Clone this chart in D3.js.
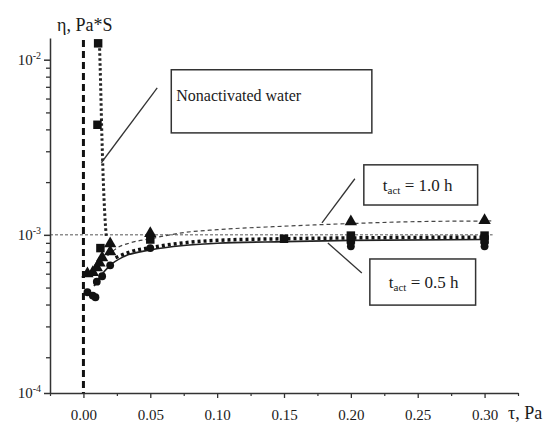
<!DOCTYPE html>
<html>
<head>
<meta charset="utf-8">
<script src="https://cdn.jsdelivr.net/npm/d3@7"></script>
<style>
  body { margin: 0; background: #fff; }
  svg text { font-family: "Liberation Serif", "DejaVu Serif", serif; fill: #1a1a1a; }
</style>
</head>
<body>
<div id="chart"></div>
<script>
// measured points  [tau (Pa), eta (Pa*s)]
var waterPts = [[0.011, 1.24e-2], [0.0105, 4.25e-3], [0.0127, 8.4e-4], [0.05, 9.4e-4],
                [0.15, 9.5e-4], [0.2, 9.9e-4], [0.2, 9.4e-4], [0.3, 9.9e-4], [0.3, 9.4e-4]];
var act10Pts = [[0.003, 6.0e-4], [0.007, 6.1e-4], [0.010, 6.5e-4], [0.012, 6.9e-4], [0.014, 7.4e-4],
                [0.020, 8.0e-4], [0.020, 8.9e-4], [0.05, 1.02e-3], [0.2, 1.19e-3], [0.3, 1.21e-3]];
var act05Pts = [[0.003, 4.7e-4], [0.007, 4.5e-4], [0.009, 4.4e-4], [0.010, 5.4e-4], [0.014, 5.8e-4],
                [0.020, 6.7e-4], [0.05, 8.4e-4], [0.2, 9.0e-4], [0.2, 8.6e-4], [0.3, 9.0e-4], [0.3, 8.6e-4]];

// fitted curves
var waterDropFit = [[0.0120, 1.24e-2], [0.0128, 7.5e-3], [0.0136, 4.2e-3], [0.0148, 2.1e-3],
                    [0.0160, 1.3e-3], [0.0172, 9.6e-4]];
var waterFit = [[0.024, 7.4e-4], [0.035, 8.0e-4], [0.052, 8.5e-4], [0.075, 9.0e-4], [0.1, 9.3e-4],
                [0.15, 9.5e-4], [0.2, 9.6e-4], [0.3, 9.7e-4]];
var act10Fit = [[0.018, 7.6e-4], [0.025, 8.4e-4], [0.035, 9.0e-4], [0.05, 9.5e-4], [0.075, 1.03e-3],
                [0.1, 1.07e-3], [0.15, 1.12e-3], [0.2, 1.16e-3], [0.25, 1.19e-3], [0.305, 1.2e-3]];
var act05Fit = [[0.008, 5.1e-4], [0.0127, 5.8e-4], [0.02, 6.7e-4], [0.03, 7.5e-4], [0.05, 8.2e-4],
                [0.075, 8.7e-4], [0.1, 8.95e-4], [0.15, 9.15e-4], [0.2, 9.3e-4], [0.3, 9.4e-4]];

// axes
var xDomain = [-0.025, 0.325];
var xMajor = [0, 0.05, 0.10, 0.15, 0.20, 0.25, 0.30];
var xMinor = [-0.025, 0.025, 0.075, 0.125, 0.175, 0.225, 0.275, 0.325];
var yDomain = [1.25e-4, 1.33e-2];
var yMajor = [1.25e-4, 1e-3, 1e-2];
var yMajorExp = ["-4", "-3", "-2"];
var yMinor = [2e-4, 3e-4, 4e-4, 5e-4, 6e-4, 7e-4, 8e-4, 9e-4, 2e-3, 3e-3, 4e-3, 5e-3, 6e-3, 7e-3, 8e-3, 9e-3];
var refEta = 1e-3, refTau = 0, refEnd = 0.306;

// annotation boxes [tau0, tau1, etaTop, etaBottom], leaders [[tau, eta],[tau, eta]]
var noteWater = { box: [0.0657, 0.2157, 8.76e-3, 3.82e-3], lead: [[0.0552, 6.9e-3], [0.0134, 2.58e-3]] };
var note10 = { box: [0.2097, 0.2948, 2.51e-3, 1.48e-3], lead: [[0.203, 2.09e-3], [0.1784, 1.17e-3]] };
var note05 = { box: [0.2142, 0.2933, 7.28e-4, 3.97e-4], lead: [[0.2082, 6.05e-4], [0.1828, 8.99e-4]] };

var W = 551, H = 424;
var x = d3.scaleLinear().domain(xDomain).range([50, 518]);
var y = d3.scaleLog().domain(yDomain).range([393, 38]);

var svg = d3.select("#chart").append("svg")
    .attr("width", W).attr("height", H);

// reference lines
svg.append("line")
    .attr("x1", x(xDomain[0])).attr("x2", x(refEnd))
    .attr("y1", y(refEta)).attr("y2", y(refEta))
    .attr("stroke", "#555").attr("stroke-width", 1).attr("stroke-dasharray", "3,2");
svg.append("line")
    .attr("x1", x(refTau)).attr("x2", x(refTau))
    .attr("y1", y(yDomain[1]) + 2).attr("y2", y(yDomain[0]))
    .attr("stroke", "#111").attr("stroke-width", 3).attr("stroke-dasharray", "7,4");

// fit lines
var line = d3.line()
    .x(function(d) { return x(d[0]); })
    .y(function(d) { return y(d[1]); })
    .curve(d3.curveMonotoneX);

svg.append("path").datum(act05Fit).attr("d", line)
    .attr("fill", "none").attr("stroke", "#222").attr("stroke-width", 1.6);
svg.append("path").datum(act10Fit).attr("d", line)
    .attr("fill", "none").attr("stroke", "#444").attr("stroke-width", 1.2).attr("stroke-dasharray", "4,3");
svg.append("path").datum(waterFit).attr("d", line)
    .attr("fill", "none").attr("stroke", "#111").attr("stroke-width", 3.5).attr("stroke-dasharray", "3,3");
svg.append("path").datum(waterDropFit).attr("d", line)
    .attr("fill", "none").attr("stroke", "#222").attr("stroke-width", 3).attr("stroke-dasharray", "2.5,2.5");

// markers
function drawPts(data, type, size) {
    svg.append("g").selectAll("path").data(data).enter().append("path")
        .attr("transform", function(d) { return "translate(" + x(d[0]) + "," + y(d[1]) + ")"; })
        .attr("d", d3.symbol().type(type).size(size))
        .attr("fill", "#111");
}
drawPts(act05Pts, d3.symbolCircle, 48);
drawPts(waterPts, d3.symbolSquare, 72);
drawPts(act10Pts, d3.symbolTriangle, 66);

// x axis
svg.append("g").attr("transform", "translate(0,393)")
    .call(d3.axisBottom(x).tickValues(xMajor).tickSize(5).tickSizeOuter(0).tickPadding(11)
        .tickFormat(d3.format(".2f")))
    .call(function(g) {
        g.select(".domain").attr("stroke", "#333").attr("stroke-width", 1.5);
        g.selectAll(".tick line").attr("stroke", "#333").attr("stroke-width", 1.3);
        g.selectAll("text").attr("font-size", 15).attr("fill", "#1a1a1a");
    });
svg.append("g").attr("transform", "translate(0,393)")
    .call(d3.axisBottom(x).tickValues(xMinor).tickSize(3).tickFormat(""))
    .call(function(g) {
        g.select(".domain").remove();
        g.selectAll(".tick line").attr("stroke", "#333").attr("stroke-width", 1.2);
    });

// y axis
svg.append("g").attr("transform", "translate(50,0)")
    .call(d3.axisLeft(y).tickValues(yMajor).tickSize(6).tickSizeOuter(0).tickFormat(""))
    .call(function(g) {
        g.select(".domain").attr("stroke", "#333").attr("stroke-width", 1.5);
        g.selectAll(".tick line").attr("stroke", "#333").attr("stroke-width", 1.5);
    });
svg.append("g").attr("transform", "translate(50,0)")
    .call(d3.axisLeft(y).tickValues(yMinor).tickSize(4).tickFormat(""))
    .call(function(g) {
        g.select(".domain").remove();
        g.selectAll(".tick line").attr("stroke", "#333").attr("stroke-width", 1.3);
    });

var yLab = svg.append("g").selectAll("text").data(yMajor).enter().append("text")
    .attr("x", 41).attr("y", function(d) { return y(d) + 5; })
    .attr("text-anchor", "end").attr("font-size", 15);
yLab.append("tspan").text("10");
yLab.append("tspan").attr("font-size", 10).attr("dy", -6)
    .text(function(d, i) { return yMajorExp[i].replace("-", "\u2011"); });

// axis titles
svg.append("text").attr("x", 57).attr("y", 31).attr("font-size", 18).text("\u03b7, Pa*S");
svg.append("text").attr("x", 508).attr("y", 419).attr("font-size", 18).text("\u03c4, Pa");

// annotations
function note(n) {
    svg.append("line")
        .attr("x1", x(n.lead[0][0])).attr("y1", y(n.lead[0][1]))
        .attr("x2", x(n.lead[1][0])).attr("y2", y(n.lead[1][1]))
        .attr("stroke", "#333").attr("stroke-width", 1.3);
    return svg.append("rect")
        .attr("x", x(n.box[0])).attr("y", y(n.box[2]))
        .attr("width", x(n.box[1]) - x(n.box[0])).attr("height", y(n.box[3]) - y(n.box[2]))
        .attr("fill", "#fff").attr("stroke", "#333").attr("stroke-width", 1.5);
}
note(noteWater);
note(note10);
note(note05);

svg.append("text").attr("x", x(noteWater.box[0]) + 5).attr("y", y(noteWater.box[2]) + 31)
    .attr("font-size", 16).text("Nonactivated water");

function tact(n, val) {
    var t = svg.append("text").attr("x", x(n.box[0]) + 19)
        .attr("y", (y(n.box[2]) + y(n.box[3])) / 2 + 6).attr("font-size", 17);
    t.append("tspan").text("t");
    t.append("tspan").attr("font-size", 11).attr("dy", 3).text("act");
    t.append("tspan").attr("dy", -3).text(" = " + val + " h");
}
tact(note10, "1.0");
tact(note05, "0.5");
</script>
</body>
</html>
